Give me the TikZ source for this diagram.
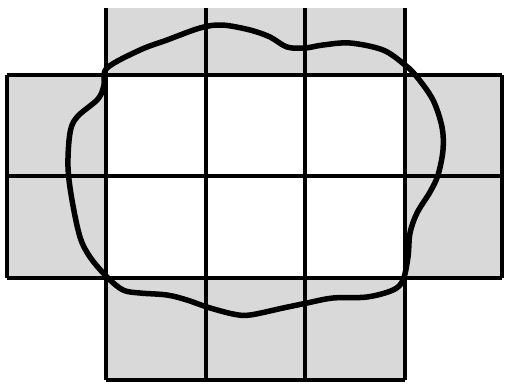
\documentclass[tikz,border=0pt]{standalone}
\begin{document}
\begin{tikzpicture}[x=1pt,y=-1pt,
  cellfill/.style={fill=black!15},
  gridline/.style={line width=3.2pt},
  blob/.style={line width=5.5pt,line join=round}]
\useasboundingbox (0,0) rectangle (505,383);
\fill[white] (0,0) rectangle (505,383);
\begin{scope}
\clip (0,0) rectangle (505,383);
% gray cells
\fill[cellfill] (106,8) rectangle (405,75);
\fill[cellfill] (7,75) rectangle (106,278);
\fill[cellfill] (405,75) rectangle (502,278);
\fill[cellfill] (106,278) rectangle (405,380);
% grid lines
\foreach \x in {106,206,305,405} \draw[gridline] (\x,8) -- (\x,380);
\foreach \x in {7,502} \draw[gridline] (\x,75) -- (\x,278);
\foreach \y in {75,176,278} \draw[gridline] (7,\y) -- (502,\y);
\draw[gridline] (106,380) -- (405,380);
% blob
\draw[blob] plot[smooth cycle,tension=0.55] coordinates {
 (107,68) (140,50) (167,40) (200,28) (222,25) (250,30) (270,37) (287,47)
 (305,48) (323,45) (350,43) (383,50) (405,65) (417,77) (433,100) (442,127)
 (443,150) (438,175) (430,192) (417,213) (410,233) (408,257) (403,280)
 (393,290) (367,297) (333,298) (307,303) (283,308) (250,315) (233,314)
 (207,307) (187,300) (167,295) (140,293) (123,290) (107,277) (90,257)
 (80,237) (72,200) (68,167) (70,133) (77,117) (98,99) (104,85)};
\end{scope}
\end{tikzpicture}
\end{document}
